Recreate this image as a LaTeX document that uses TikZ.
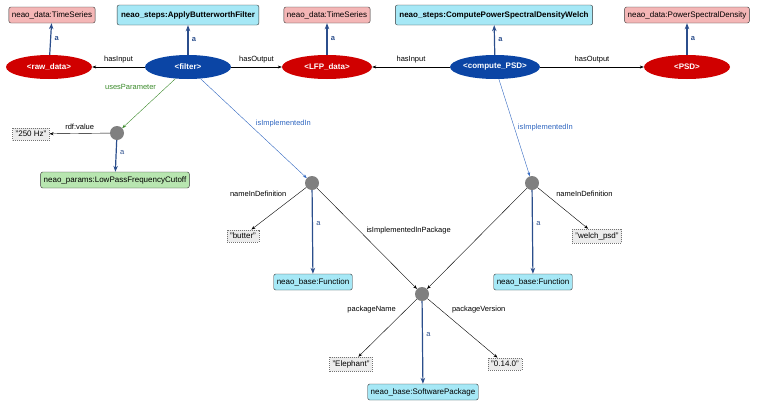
\documentclass[tikz,border=0pt]{standalone}
\usepackage{fontspec}
\setmainfont{Liberation Sans}
\usetikzlibrary{shapes.geometric,arrows.meta}
\definecolor{clsred}{HTML}{F4B6B6}
\definecolor{clscyan}{HTML}{A6E8F6}
\definecolor{clsgreen}{HTML}{B8E6B0}
\definecolor{indred}{HTML}{D00000}
\definecolor{actblue}{HTML}{0B45A5}
\definecolor{typeblue}{HTML}{2B4E8C}
\definecolor{implblue}{HTML}{2F66C0}
\definecolor{paramgreen}{HTML}{3A8A2A}
\tikzset{
  cls/.style={rectangle, rounded corners=2pt, draw=black!80, minimum height=16pt, inner xsep=3pt, font=\fontsize{8}{9}\selectfont},
  stepcls/.style={cls, fill=clscyan, minimum height=20pt, inner xsep=4pt, font=\fontsize{8}{9}\selectfont\bfseries},
  indiv/.style={ellipse, draw=none, minimum width=86pt, minimum height=24pt, inner sep=0pt, text=white, font=\fontsize{8}{9}\selectfont\bfseries},
  blank/.style={circle, fill=gray, minimum size=14pt, inner sep=0pt},
  lit/.style={rectangle, draw=black!55, dash pattern=on 1pt off 1pt, fill=gray!15, minimum height=12pt, inner xsep=3pt, font=\fontsize{8}{9}\selectfont},
  lbl/.style={font=\fontsize{7.5}{8}\selectfont},
  rel/.style={-{Stealth[length=4pt]}, black},
  isa/.style={-{Stealth[length=6pt]}, typeblue, line width=1.2pt}
}
\begin{document}
\begin{tikzpicture}[x=1pt,y=-1pt]
\useasboundingbox (0,0) rectangle (760,402);
% classes on top
\node(tsin) [cls, fill=clsred] at (52,15) {neao\_data:TimeSeries};
\node(butterstep) [stepcls] at (188,15) {neao\_steps:ApplyButterworthFilter};
\node(tsout) [cls, fill=clsred] at (327,15) {neao\_data:TimeSeries};
\node(welchstep) [stepcls] at (494,15) {neao\_steps:ComputePowerSpectralDensityWelch};
\node(psdcls) [cls, fill=clsred] at (687,15) {neao\_data:PowerSpectralDensity};

% individuals
\node(raw) [indiv, fill=indred] at (49,67) {<raw\_data>};
\node(filter) [indiv, fill=actblue] at (188,67) {<filter>};
\node(lfp) [indiv, fill=indred, minimum width=90pt] at (327,67) {<LFP\_data>};
\node(compute) [indiv, fill=actblue] at (495,67) {<compute\_PSD>};
\node(psd) [indiv, fill=indred] at (687,67) {<PSD>};

% parameter
\node(param) [blank] at (117,133) {};
\node(hz) [lit] at (31,134) {"250 Hz"};
\node(cutoff) [cls, fill=clsgreen] at (115,180) {neao\_params:LowPassFrequencyCutoff};

% functions
\node(fun1) [blank] at (312,183) {};
\node(fun2) [blank] at (532,183) {};
\node(butter) [lit] at (243,236) {"butter"};
\node(welch) [lit] at (597,236) {"welch\_psd"};
\node(funcls1) [cls, fill=clscyan] at (313,282) {neao\_base:Function};
\node(funcls2) [cls, fill=clscyan] at (533,282) {neao\_base:Function};

% package
\node(pkg) [blank] at (422,294) {};
\node(eleph) [lit] at (351,364) {"Elephant"};
\node(version) [lit] at (505,364) {"0.14.0"};
\node(pkgcls) [cls, fill=clscyan] at (423,392) {neao\_base:SoftwarePackage};

% Draw types
\foreach \a/\b in {raw/tsin, filter/butterstep, lfp/tsout, compute/welchstep, psd/psdcls}
  \draw[isa] (\a) -- node[right, lbl, text=typeblue, font=\fontsize{7.5}{8}\selectfont\bfseries] {a} (\b);
\foreach \a/\b in {param/cutoff, fun1/funcls1, fun2/funcls2, pkg/pkgcls}
  \draw[isa] (\a) -- node[right, lbl, text=typeblue, pos=0.4] {a} (\b);

% Draw relations
\draw[rel] (filter) -- node[above, lbl] {hasInput} (raw);
\draw[rel] (filter) -- node[above, lbl] {hasOutput} (lfp);
\draw[rel] (compute) -- node[above, lbl] {hasInput} (lfp);
\draw[rel] (compute) -- node[above, lbl] {hasOutput} (psd);
\draw[rel, paramgreen] (filter) -- node[above left, lbl, text=paramgreen, pos=0.3] {usesParameter} (param);
\draw[rel] (param) -- node[above, lbl] {rdf:value} (hz);
\draw[rel, implblue] (filter) -- node[right, lbl, text=implblue, pos=0.45, xshift=4pt] {isImplementedIn} (fun1);
\draw[rel, implblue] (compute) -- node[right, lbl, text=implblue, pos=0.5] {isImplementedIn} (fun2);
\draw[rel] (fun1) -- node[above left, lbl, pos=0.3] {nameInDefinition} (butter);
\draw[rel] (fun2) -- node[above right, lbl, pos=0.3] {nameInDefinition} (welch);
\draw[rel] (fun1) -- node[right, lbl, pos=0.42, xshift=4pt] {isImplementedInPackage} (pkg);
\draw[rel] (fun2) -- (pkg);
\draw[rel] (pkg) -- node[above left, lbl, pos=0.3] {packageName} (eleph);
\draw[rel] (pkg) -- node[above right, lbl, pos=0.3] {packageVersion} (version);
\end{tikzpicture}
\end{document}
